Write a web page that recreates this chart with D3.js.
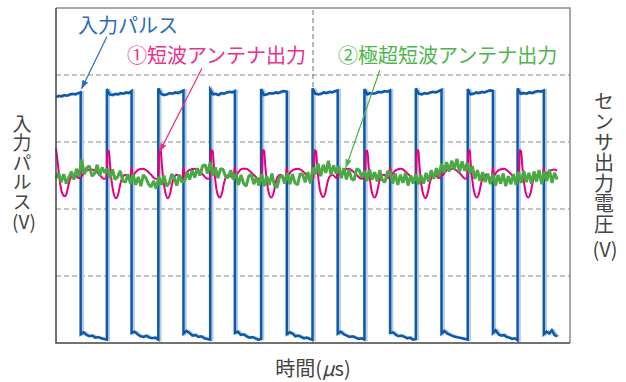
<!DOCTYPE html>
<html>
<head>
<meta charset="utf-8">
<script src="https://cdn.jsdelivr.net/npm/d3@7"></script>
<style>
  body { margin: 0; background: #fff; }
  text { font-family: "Noto Sans CJK JP", "Noto Sans", sans-serif; }
</style>
</head>
<body>
<div id="chart"></div>
<script>
// time axis in us, 10 divisions across the frame
var timeDomain = [0, 10];
var pulseDomain = [0, 5];        // V
var sensorDomain = [-250, 250];  // mV

// segment boundaries of the input pulse (us)
var pulseEdges = [0, 0.48, 0.99, 1.47, 1.99, 2.48, 3.00, 3.48, 3.99, 4.49, 4.99,
    5.48, 6.00, 6.50, 7.00, 7.50, 8.01, 8.50, 8.98, 9.49, 9.75];

// level readings along every high / low segment (V)
var pulseLevels = [
    [3.67, 3.69, 3.68, 3.70, 3.69, 3.71, 3.72, 3.71, 3.73, 3.74],
    [0.13, 0.16, 0.12, 0.10, 0.11, 0.08, 0.09, 0.07, 0.06, 0.05],
    [3.79, 3.71, 3.70, 3.72, 3.71, 3.73, 3.72, 3.74, 3.73, 3.76],
    [0.15, 0.17, 0.13, 0.10, 0.09, 0.11, 0.08, 0.07, 0.08, 0.05],
    [3.80, 3.72, 3.70, 3.71, 3.73, 3.72, 3.74, 3.73, 3.75, 3.77],
    [0.14, 0.18, 0.15, 0.11, 0.12, 0.09, 0.10, 0.07, 0.06, 0.05],
    [3.78, 3.71, 3.72, 3.70, 3.73, 3.72, 3.74, 3.75, 3.74, 3.76],
    [0.15, 0.17, 0.12, 0.13, 0.10, 0.08, 0.09, 0.07, 0.05, 0.06],
    [3.79, 3.70, 3.71, 3.73, 3.72, 3.74, 3.73, 3.75, 3.76, 3.75],
    [0.13, 0.16, 0.14, 0.10, 0.11, 0.09, 0.07, 0.08, 0.06, 0.05],
    [3.80, 3.72, 3.71, 3.72, 3.74, 3.73, 3.75, 3.74, 3.76, 3.77],
    [0.14, 0.17, 0.13, 0.11, 0.09, 0.10, 0.08, 0.06, 0.07, 0.05],
    [3.79, 3.71, 3.73, 3.72, 3.73, 3.75, 3.74, 3.76, 3.75, 3.77],
    [0.15, 0.16, 0.12, 0.10, 0.11, 0.09, 0.07, 0.08, 0.05, 0.06],
    [3.80, 3.72, 3.71, 3.73, 3.72, 3.74, 3.75, 3.74, 3.76, 3.78],
    [0.14, 0.18, 0.14, 0.12, 0.10, 0.09, 0.08, 0.07, 0.06, 0.05],
    [3.79, 3.71, 3.72, 3.74, 3.73, 3.75, 3.74, 3.76, 3.77, 3.76],
    [0.15, 0.19, 0.13, 0.11, 0.12, 0.09, 0.08, 0.06, 0.07, 0.04],
    [3.80, 3.72, 3.73, 3.72, 3.74, 3.73, 3.75, 3.76, 3.75, 3.77],
    [0.13, 0.17, 0.14, 0.19, 0.12, 0.10]
];

// (1) shortwave antenna output, [us, mV]
var shortwave = [
    [0.00, 41], [0.03, 22], [0.07, -6], [0.11, -24], [0.17, -31], [0.21, -26], [0.25, -12], [0.29, -3], [0.35, 1], [0.42, -3],
    [0.46, -4], [0.48, 11], [0.50, -1], [0.55, 4], [0.62, 8], [0.70, 9], [0.78, 6], [0.86, 0], [0.93, -5], [0.98, -4],
    [0.99, 10], [1.00, 37], [1.03, 37], [1.05, 17], [1.08, -7], [1.12, -26], [1.17, -34], [1.21, -28], [1.25, -13], [1.29, -3],
    [1.35, 1], [1.41, -3], [1.45, -4], [1.47, 13], [1.49, -1], [1.54, 4], [1.61, 9], [1.69, 10], [1.77, 7], [1.85, 1], [1.93, -5], [1.99, -4],
    [2.00, 11], [2.01, 38], [2.04, 37], [2.06, 16], [2.09, -7], [2.13, -26], [2.18, -34], [2.22, -27], [2.26, -12], [2.30, -2],
    [2.36, 1], [2.42, -3], [2.46, -4], [2.48, 12], [2.50, -1], [2.55, 5], [2.62, 9], [2.70, 10], [2.78, 7], [2.86, 1], [2.94, -5], [3.00, -4],
    [3.01, 12], [3.02, 38], [3.05, 36], [3.07, 15], [3.10, -8], [3.14, -27], [3.19, -33], [3.23, -26], [3.27, -11], [3.31, -2],
    [3.37, 1], [3.43, -3], [3.46, -4], [3.48, 13], [3.50, 0], [3.55, 5], [3.62, 10], [3.70, 10], [3.78, 6], [3.86, 0], [3.94, -5], [4.00, -4],
    [4.01, 11], [4.02, 38], [4.05, 37], [4.07, 16], [4.10, -7], [4.14, -26], [4.19, -33], [4.23, -27], [4.27, -12], [4.31, -2],
    [4.37, 1], [4.43, -3], [4.47, -4], [4.49, 12], [4.51, 0], [4.56, 5], [4.63, 9], [4.71, 10], [4.79, 7], [4.87, 1], [4.95, -5], [5.01, -4],
    [5.02, 12], [5.03, 38], [5.06, 36], [5.08, 15], [5.11, -8], [5.15, -26], [5.20, -32], [5.24, -26], [5.28, -11], [5.32, -2],
    [5.38, 1], [5.44, -3], [5.46, -4], [5.48, 12], [5.50, 0], [5.55, 4], [5.62, 9], [5.70, 10], [5.78, 6], [5.86, 0], [5.94, -5], [6.01, -4],
    [6.02, 11], [6.03, 37], [6.06, 37], [6.08, 16], [6.11, -7], [6.15, -26], [6.20, -33], [6.24, -27], [6.28, -12], [6.32, -2],
    [6.38, 1], [6.44, -3], [6.48, -4], [6.50, 12], [6.52, 0], [6.57, 5], [6.64, 9], [6.72, 10], [6.80, 6], [6.88, 0], [6.96, -5], [7.00, -4],
    [7.01, 12], [7.02, 38], [7.05, 37], [7.07, 16], [7.10, -8], [7.14, -27], [7.19, -34], [7.23, -27], [7.27, -12], [7.31, -2],
    [7.37, 1], [7.43, -3], [7.48, -4], [7.50, 13], [7.52, 0], [7.57, 5], [7.64, 10], [7.72, 10], [7.80, 7], [7.88, 1], [7.96, -5], [8.00, -4],
    [8.01, 12], [8.02, 38], [8.05, 37], [8.07, 16], [8.10, -7], [8.14, -26], [8.19, -33], [8.23, -27], [8.27, -12], [8.31, -2],
    [8.37, 1], [8.43, -3], [8.48, -4], [8.50, 12], [8.52, 0], [8.57, 5], [8.64, 9], [8.72, 10], [8.80, 6], [8.88, 0], [8.95, -5], [9.00, -4],
    [9.01, 12], [9.02, 38], [9.05, 36], [9.07, 16], [9.10, -7], [9.14, -26], [9.19, -33], [9.23, -27], [9.27, -12], [9.31, -2],
    [9.37, 1], [9.43, -3], [9.47, -4], [9.49, 12], [9.51, 0], [9.56, 4], [9.63, 8], [9.70, 9], [9.75, 7]
];

// (2) UHF antenna output, one reading every 0.05 us (mV)
var uhfStep = 0.05;
var uhf = [
    -4, 4, -10, 2, -12, -3, 6, -6, 10, -2,
    24, 2, 12, 14, -1, 3, 16, 0, 12, 4,
    10, -4, 9, -6, -2, 7, -8, -10, 2, -12,
    2, -14, -2, -16, 1, -4, -13, -17, -8, -20,
    -2, -14, 0, -16, -12, 2, -3, -15, 1, -10,
    -8, 5, -6, 8, -3, 11, 0, 14, 16, 3,
    20, 0, 12, -4, 10, 9, -2, -3, 8, -6,
    3, -14, 1, -12, -16, -1, 2, -13, -3, -15,
    2, -16, -1, -14, 3, -15, -18, -2, 0, -12,
    4, -13, 2, -11, -14, 3, 1, -10, 5, -12,
    12, 2, 18, -1, 16, 4, 22, 1, 15, 3,
    14, -4, 11, -6, 9, -5, -7, 10, 8, -3,
    7, -8, 9, -6, 5, -9, 8, -7, -10, 6,
    5, -12, 3, -14, 1, -11, 4, -15, 0, -12,
    2, -13, 0, -12, 4, -9, 8, -5, 11, -2,
    18, 4, 20, 6, 22, 9, 25, 5, 21, 7,
    19, 3, 14, -5, 8, -8, 5, -10, 3, -13,
    2, -15, 1, -12, 3, -16, -1, -13, 2, -14,
    5, -11, 7, -10, 4, -12, 6, -9, 8, -13,
    6, -8, 9, -11, 4, -6
];

var gridSensor = [-150, -50, 50, 150];
var gridTime = [5];

var leftTitle = "入力パルス";
var rightTitle = "センサ出力電圧";
var unitTitle = "(V)";

var colPulse = "#0d59a8", colShort = "#e6007e", colUhf = "#4aa845";

var width = 626, height = 382;
var margin = { top: 8, right: 56, bottom: 39, left: 56 };

var svg = d3.select("#chart").append("svg")
    .attr("width", width)
    .attr("height", height);

var x = d3.scaleLinear().domain(timeDomain).range([margin.left, width - margin.right]);
var yPulse = d3.scaleLinear().domain(pulseDomain).range([height - margin.bottom, margin.top]);
var ySens = d3.scaleLinear().domain(sensorDomain).range([height - margin.bottom, margin.top]);

// GRID
svg.append("g").selectAll("line").data(gridSensor).join("line")
    .attr("x1", x(timeDomain[0])).attr("x2", x(timeDomain[1]))
    .attr("y1", d => ySens(d)).attr("y2", d => ySens(d))
    .attr("stroke", "#8a8a8a").attr("stroke-width", 1.2).attr("stroke-dasharray", "5,3");
svg.append("g").selectAll("line").data(gridTime).join("line")
    .attr("x1", d => x(d)).attr("x2", d => x(d))
    .attr("y1", ySens(sensorDomain[0])).attr("y2", ySens(sensorDomain[1]))
    .attr("stroke", "#8a8a8a").attr("stroke-width", 1.2).attr("stroke-dasharray", "5,3");

// PULSE POINTS
var pulsePts = [];
pulseLevels.forEach(function (vals, i) {
    var a = pulseEdges[i], b = pulseEdges[i + 1];
    vals.forEach(function (v, j) {
        pulsePts.push([a + (b - a) * j / (vals.length - 1), v]);
    });
});

var pulseLine = d3.line().x(d => x(d[0])).y(d => yPulse(d[1]));
// light trace beside the edges
svg.append("path").datum(pulsePts)
    .attr("d", pulseLine)
    .attr("transform", "translate(2,0)")
    .attr("fill", "none").attr("stroke", "#b3cbe7").attr("stroke-width", 2.5);
svg.append("path").datum(pulsePts)
    .attr("d", pulseLine)
    .attr("fill", "none").attr("stroke", colPulse).attr("stroke-width", 2.5);

// SHORTWAVE
svg.append("path").datum(shortwave)
    .attr("d", d3.line().x(d => x(d[0])).y(d => ySens(d[1])).curve(d3.curveMonotoneX))
    .attr("fill", "none").attr("stroke", colShort).attr("stroke-width", 2);

// UHF
svg.append("path").datum(uhf)
    .attr("d", d3.line().x((d, i) => x(i * uhfStep)).y(d => ySens(d)))
    .attr("fill", "none").attr("stroke", colUhf).attr("stroke-width", 3)
    .attr("stroke-linejoin", "bevel");

// FRAME
var fx0 = x(timeDomain[0]), fx1 = x(timeDomain[1]);
var fy0 = ySens(sensorDomain[1]), fy1 = ySens(sensorDomain[0]);
svg.append("path").attr("d", "M" + fx0 + "," + fy0 + "H" + fx1 + "V" + fy1)
    .attr("fill", "none").attr("stroke", "#8c8c8c").attr("stroke-width", 1.5);
svg.append("path").attr("d", "M" + fx0 + "," + fy0 + "V" + fy1 + "H" + fx1)
    .attr("fill", "none").attr("stroke", "#444").attr("stroke-width", 1.5);

// ARROWHEADS
var defs = svg.append("defs");
[["a-pulse", "#2a6cb5"], ["a-short", "#e8308c"], ["a-uhf", "#4db54a"]].forEach(function (m) {
    defs.append("marker").attr("id", m[0])
        .attr("viewBox", "0 0 10 10").attr("refX", 9).attr("refY", 5)
        .attr("markerWidth", 9).attr("markerHeight", 9).attr("markerUnits", "userSpaceOnUse")
        .attr("orient", "auto")
        .append("path").attr("d", "M0,1.5L10,5L0,8.5z").attr("fill", m[1]);
});

function arrow(t0, y0, t1, y1, col, id) {
    svg.append("line")
        .attr("x1", x(t0)).attr("y1", y0).attr("x2", x(t1)).attr("y2", y1)
        .attr("stroke", col).attr("stroke-width", 1.2)
        .attr("marker-end", "url(#" + id + ")");
}
arrow(0.99, yPulse(4.57), 0.5, yPulse(3.8), "#2a6cb5", "a-pulse");
arrow(2.84, ySens(160), 2.02, ySens(36), "#e8308c", "a-short");
arrow(6.30, ySens(157), 5.64, ySens(12), "#4db54a", "a-uhf");

// ANNOTATIONS
svg.append("text").attr("x", x(0.43)).attr("y", 33)
    .attr("font-size", 20).attr("fill", "#2a6cb5").text("入力パルス");
svg.append("text").attr("x", x(1.38)).attr("y", 63)
    .attr("font-size", 20).attr("fill", "#e8308c").text("①短波アンテナ出力");
svg.append("text").attr("x", x(9.75)).attr("y", 63).attr("text-anchor", "end")
    .attr("font-size", 20).attr("fill", "#4db54a").text("②極超短波アンテナ出力");

// AXIS TITLES (vertical)
svg.append("text").attr("x", 22).attr("y", 114)
    .style("writing-mode", "vertical-rl")
    .attr("font-size", 19).attr("letter-spacing", 0.5).attr("fill", "#444")
    .text(leftTitle);
svg.append("text").attr("x", 24).attr("y", 229).attr("text-anchor", "middle")
    .attr("font-size", 19).attr("fill", "#444").text(unitTitle);
svg.append("text").attr("x", 604).attr("y", 91)
    .style("writing-mode", "vertical-rl")
    .attr("font-size", 20).attr("letter-spacing", 0.5).attr("fill", "#444")
    .text(rightTitle);
svg.append("text").attr("x", 605).attr("y", 257).attr("text-anchor", "middle")
    .attr("font-size", 20).attr("fill", "#444").text(unitTitle);

var xt = svg.append("text").attr("x", x(5)).attr("y", 376)
    .attr("text-anchor", "middle").attr("font-size", 20).attr("fill", "#444");
xt.append("tspan").text("時間(");
xt.append("tspan").attr("font-style", "italic").text("μ");
xt.append("tspan").text("s)");
</script>
</body>
</html>
